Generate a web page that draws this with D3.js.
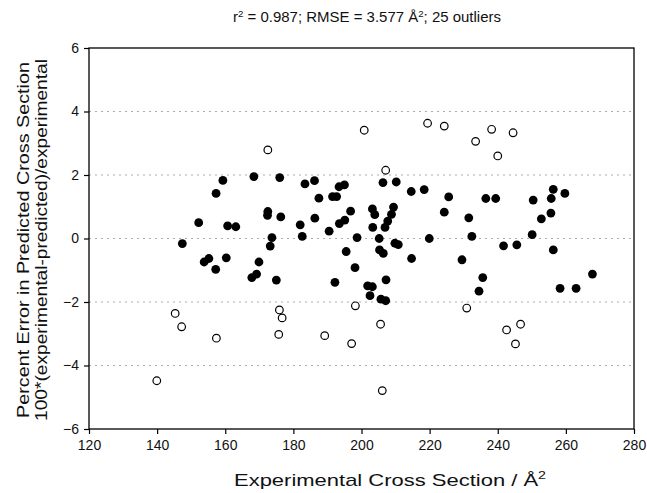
<!DOCTYPE html>
<html>
<head>
<meta charset="utf-8">
<script src="https://cdn.jsdelivr.net/npm/d3@7"></script>
<style>
    body { margin: 0; background: #fff; }
    svg text { font-family: "Liberation Sans", Arial, sans-serif; fill: #111; }
</style>
</head>
<body>
<div id="the_chart"></div>
<script>
// fitted points (filled) : cross section / percent error
var inlierCs = [147.4, 152.2, 153.8, 155.2, 157.2, 157.3, 159.3, 160.3, 160.7, 163.1,
    167.8, 168.4, 169.2, 169.9, 172.5, 172.4, 173.7, 173.2, 175.0, 176.0,
    176.3, 182.0, 182.6, 183.4, 186.2, 186.3, 187.5, 190.5, 191.5, 192.2,
    192.7, 193.4, 193.5, 195.0, 195.1, 195.5, 196.8, 198.1, 198.7, 201.8,
    202.5, 203.2, 203.2, 203.3, 203.9, 205.2, 205.3, 205.7, 206.3, 206.4,
    206.9, 207.1, 207.2, 207.7, 208.8, 209.4, 209.8, 210.2, 210.8, 214.6,
    214.7, 218.4, 219.9, 224.3, 225.6, 229.5, 231.5, 232.4, 234.5, 235.6,
    236.5, 239.4, 241.7, 245.6, 250.1, 250.4, 252.8, 255.6, 255.7, 256.3,
    256.3, 258.3, 259.7, 263.0, 267.8];
var inlierErr = [-0.16, 0.50, -0.74, -0.63, -0.97, 1.42, 1.83, -0.61, 0.40, 0.37,
    -1.23, 1.95, -1.12, -0.74, 0.85, 0.73, 0.03, -0.24, -1.31, 1.92,
    0.68, 0.43, 0.07, 1.72, 1.82, 0.64, 1.27, 0.23, 1.32, -1.38,
    1.32, 1.63, 0.47, 1.69, 0.58, -0.41, 0.86, -0.92, 0.03, -1.49,
    -1.80, -1.52, 0.93, 0.35, 0.75, 0.00, -0.36, -1.91, 1.76, -0.47,
    0.35, -1.96, -1.30, 0.55, 0.76, 0.99, -0.15, 1.78, -0.19, 1.48,
    -0.63, 1.54, 0.00, 0.83, 1.31, -0.67, 0.65, 0.07, -1.66, -1.23,
    1.26, 1.26, -0.23, -0.20, 0.12, 1.21, 0.62, 0.80, 1.26, 1.55,
    -0.36, -1.57, 1.42, -1.57, -1.12];

// the 25 outliers (open)
var outlierCs = [172.5, 200.8, 219.4, 224.3, 233.5, 238.2, 244.5, 240.0, 207.1,
    145.3, 147.2, 157.4, 139.9, 175.9, 176.7, 175.7, 189.2, 198.2, 197.1,
    205.6, 206.1, 230.9, 242.6, 246.7, 245.2];
var outlierErr = [2.79, 3.41, 3.63, 3.54, 3.06, 3.44, 3.33, 2.60, 2.15,
    -2.36, -2.78, -3.14, -4.48, -2.25, -2.50, -3.02, -3.06, -2.12, -3.31,
    -2.70, -4.79, -2.19, -2.88, -2.70, -3.32];

var xTicks = [120, 140, 160, 180, 200, 220, 240, 260, 280];
var yTicks = [-6, -4, -2, 0, 2, 4, 6];
var gridTicks = [-4, -2, 0, 2, 4];

gen_vis();

function gen_vis() {
    var w = 647;
    var h = 493;
    var padLeft = 89, padRight = 634, padTop = 48, padBottom = 429;

    var svg = d3.select("#the_chart")
        .append("svg")
        .attr("width", w)
        .attr("height", h);

    var xscale = d3.scaleLinear()
        .domain([120, 280])
        .range([padLeft, padRight]);
    var yscale = d3.scaleLinear()
        .domain([-6, 6])
        .range([padBottom, padTop]);

    // dotted grid lines (faint, like the scan)
    svg.selectAll(".grid")
        .data(gridTicks)
        .enter().append("line")
        .attr("class", "grid")
        .attr("x1", padLeft)
        .attr("x2", padRight)
        .attr("y1", function (d) { return yscale(d); })
        .attr("y2", function (d) { return yscale(d); })
        .attr("stroke", "#ababab")
        .attr("stroke-width", 1)
        .attr("stroke-dasharray", "2,4");

    // frame
    svg.append("rect")
        .attr("x", padLeft)
        .attr("y", padTop)
        .attr("width", padRight - padLeft)
        .attr("height", padBottom - padTop)
        .attr("fill", "none")
        .attr("stroke", "#000")
        .attr("stroke-width", 1.3);

    var yaxis = d3.axisLeft(yscale)
        .tickValues(yTicks)
        .tickSize(5)
        .tickPadding(5);
    var xaxis = d3.axisBottom(xscale)
        .tickValues(xTicks)
        .tickSize(5)
        .tickPadding(6);

    svg.append("g")
        .attr("transform", "translate(" + padLeft + ",0)")
        .call(yaxis)
        .call(function (g) { g.select(".domain").remove(); });
    svg.append("g")
        .attr("transform", "translate(0," + padBottom + ")")
        .call(xaxis)
        .call(function (g) { g.select(".domain").remove(); });

    svg.selectAll(".tick line").attr("stroke", "#000").attr("stroke-width", 1.2);
    svg.selectAll(".tick text")
        .attr("font-size", 14)
        .attr("font-family", "'Liberation Sans', Arial, sans-serif")
        .attr("fill", "#111");

    // outliers (open circles)
    svg.selectAll(".outlier")
        .data(outlierCs)
        .enter().append("circle")
        .attr("class", "outlier")
        .attr("cx", function (d) { return xscale(d); })
        .attr("cy", function (d, i) { return yscale(outlierErr[i]); })
        .attr("r", 3.8)
        .attr("fill", "#fff")
        .attr("stroke", "#000")
        .attr("stroke-width", 1.2);

    // fitted points (filled)
    svg.selectAll(".inlier")
        .data(inlierCs)
        .enter().append("circle")
        .attr("class", "inlier")
        .attr("cx", function (d) { return xscale(d); })
        .attr("cy", function (d, i) { return yscale(inlierErr[i]); })
        .attr("r", 4.4)
        .attr("fill", "#000");

    // title on top
    var title = svg.append("text")
        .attr("x", 367)
        .attr("y", 22)
        .attr("text-anchor", "middle")
        .attr("font-size", 14)
        .attr("textLength", 268)
        .attr("lengthAdjust", "spacingAndGlyphs");
    title.append("tspan").text("r");
    title.append("tspan").attr("dy", -5).attr("font-size", 9).text("2");
    title.append("tspan").attr("dy", 5).text(" = 0.987; RMSE = 3.577 Å");
    title.append("tspan").attr("dy", -5).attr("font-size", 9).text("2");
    title.append("tspan").attr("dy", 5).text("; 25 outliers");

    // x axis title
    var xt = svg.append("text")
        .attr("x", 390)
        .attr("y", 486)
        .attr("text-anchor", "middle")
        .attr("font-size", 17)
        .attr("textLength", 312)
        .attr("lengthAdjust", "spacingAndGlyphs");
    xt.append("tspan").text("Experimental Cross Section / Å");
    xt.append("tspan").attr("dy", -7).attr("font-size", 11).text("2");

    // y axis title, two lines
    svg.append("text")
        .attr("transform", "translate(29,240) rotate(-90)")
        .attr("text-anchor", "middle")
        .attr("font-size", 17)
        .attr("textLength", 356)
        .attr("lengthAdjust", "spacingAndGlyphs")
        .text("Percent Error in Predicted Cross Section");
    svg.append("text")
        .attr("transform", "translate(47,240) rotate(-90)")
        .attr("text-anchor", "middle")
        .attr("font-size", 17)
        .attr("textLength", 362)
        .attr("lengthAdjust", "spacingAndGlyphs")
        .text("100*(experimental-predicted)/experimental");
}
</script>
</body>
</html>
